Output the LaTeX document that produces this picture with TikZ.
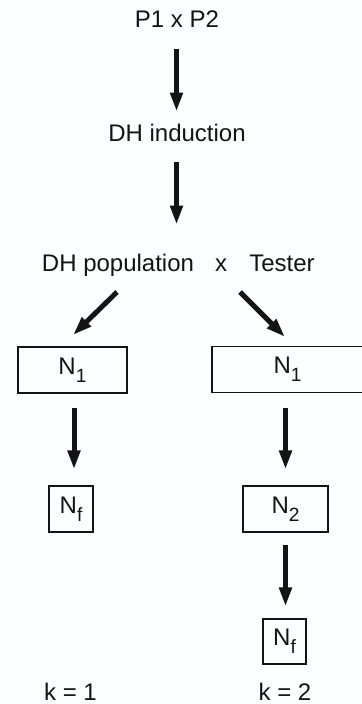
\documentclass[tikz,border=0pt]{standalone}
\usepackage{fontspec}
\setmainfont{Liberation Sans}
\usetikzlibrary{arrows.meta}
\newcommand\mysub[1]{\raisebox{-4.2pt}{\fontsize{9.6}{10}\selectfont #1}}
\definecolor{bgc}{RGB}{251,254,255}
\definecolor{ink}{RGB}{20,20,20}
\tikzset{
  lbl/.style={inner sep=0pt, text height=8.5pt, text depth=0pt, anchor=base, text=ink, font=\fontsize{12}{14}\selectfont},
  boxn/.style={draw=ink, line width=0.55pt, inner sep=0pt, minimum height=23pt, text=ink, font=\fontsize{12}{14}\selectfont},
  big/.style={draw=ink, line width=2.5pt, -{Triangle[length=9.5pt,width=6pt]}},
}
\begin{document}
\begin{tikzpicture}[x=0.5pt,y=-0.5pt]
\fill[bgc] (0,0) rectangle (362,704);
\useasboundingbox (0,0) rectangle (362,704);
% text nodes
\node[lbl] (p) at (177,28) {P1 x P2};
\node[lbl] (dh) at (177,142) {DH induction};
\node[lbl] (pop) at (118,272) {DH population};
\node[lbl] (cross) at (221,272) {x};
\node[lbl] (tester) at (282,272) {Tester};
\node[lbl] (k1) at (70.5,700) {k = 1};
\node[lbl] (k2) at (285,700) {k = 2};
% boxes
\node[boxn, minimum width=54.5pt] (n1l) at (72.5,370) {N\mysub{1}};
\node[boxn, minimum width=75.5pt] (n1r) at (287.5,369.5) {N\mysub{1}};
\node[boxn, minimum width=22pt] (nfl) at (71,509) {N\mysub{f}};
\node[boxn, minimum width=42.5pt] (n2) at (285.5,509) {N\mysub{2}};
\node[boxn, minimum width=21.5pt, minimum height=22.5pt] (nfr) at (284.5,641.5) {N\mysub{f}};
% diagonal arrow ends
\coordinate (dls) at (117,292);
\coordinate (dle) at (73,335);
\coordinate (drs) at (240,292);
\coordinate (dre) at (285,337);
% arrows
\draw[big, shorten <=10.5pt, shorten >=6.5pt] ([xshift=-0.25pt]p.south) -- ([xshift=-0.25pt]p.south |- dh.north);
\draw[big, shorten <=10pt, shorten >=15pt] ([xshift=-0.25pt]dh.south) -- ([xshift=-0.25pt]dh.south |- pop.north);
\draw[big] (dls) -- (dle);
\draw[big] (drs) -- (dre);
\draw[big, shorten <=7pt, shorten >=8pt] ([xshift=0.75pt]n1l.south) -- ([xshift=0.75pt]n1l.south |- nfl.north);
\draw[big, shorten <=7.5pt, shorten >=8pt] (n2.north |- n1r.south) -- (n2.north);
\draw[big, shorten <=6pt, shorten >=6pt] (n2.south) -- (n2.south |- nfr.north);
\end{tikzpicture}
\end{document}
